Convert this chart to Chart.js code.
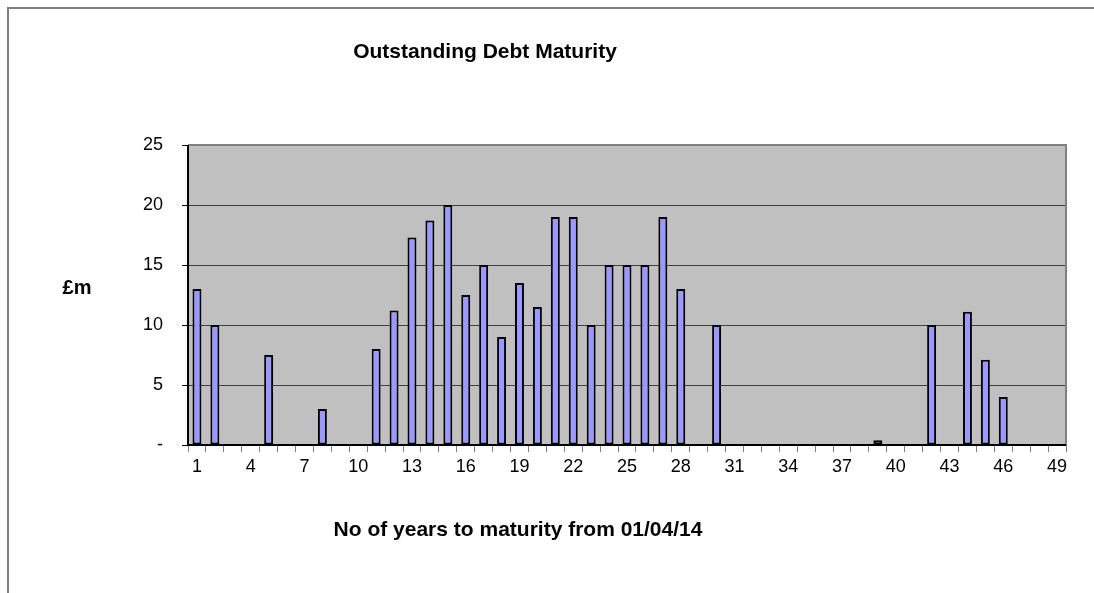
<!DOCTYPE html>
<html>
<head>
<meta charset="utf-8">
<script src="https://cdn.jsdelivr.net/npm/chart.js@4.4.1/dist/chart.umd.min.js"></script>
<style>
  html, body { margin: 0; padding: 0; background: #fff; }
  canvas { display: block; }
</style>
</head>
<body>
<canvas id="debtChart" width="1094" height="593"></canvas>
<script>
// years to maturity (1..49)
const years = [];
for (let y = 1; y <= 49; y++) years.push(String(y));

// £m maturing in each year (null = nothing)
const maturing = [
    13, 10, null, null, 7.5, null, null, 3, null, null,
    8, 11.2, 17.3, 18.7, 20, 12.5, 15, 9, 13.5, 11.5,
    19, 19, 10, 15, 15, 15, 19, 13, null, 10,
    null, null, null, null, null, null, null, null, 0.4, null,
    null, 10, null, 11.1, 7.1, 4, null, null, null
];

const yTicks = [0, 5, 10, 15, 20, 25];

const chartTitle = 'Outstanding Debt Maturity';
const yTitle = '£m';
const xTitle = 'No of years to maturity from 01/04/14';

const FONT = '"Liberation Sans", Arial, sans-serif';

// gray plot background, frame and text labels
const decorations = {
    id: 'decorations',
    beforeDraw(chart) {
        const { ctx, chartArea: a } = chart;
        ctx.save();
        ctx.fillStyle = '#fff';
        ctx.fillRect(0, 0, chart.width, chart.height);
        // outer frame (top + left only visible)
        ctx.strokeStyle = '#808080';
        ctx.lineWidth = 2;
        ctx.beginPath();
        ctx.moveTo(8, chart.height);
        ctx.lineTo(8, 8);
        ctx.lineTo(chart.width, 8);
        ctx.stroke();
        // plot area
        ctx.fillStyle = '#C0C0C0';
        ctx.fillRect(a.left, a.top, a.right - a.left, a.bottom - a.top);
        ctx.restore();
    },
    afterDraw(chart) {
        const { ctx, chartArea: a } = chart;
        ctx.save();
        ctx.strokeStyle = '#808080';
        ctx.lineWidth = 2;
        ctx.beginPath();
        ctx.moveTo(a.left, a.top);
        ctx.lineTo(a.right, a.top);
        ctx.lineTo(a.right, a.bottom);
        ctx.stroke();
        // axis lines
        ctx.strokeStyle = '#000';
        ctx.beginPath();
        ctx.moveTo(a.left, a.top);
        ctx.lineTo(a.left, a.bottom);
        ctx.lineTo(a.right, a.bottom);
        ctx.stroke();

        ctx.fillStyle = '#000';
        ctx.textAlign = 'center';
        ctx.textBaseline = 'middle';
        ctx.font = 'bold 21px ' + FONT;
        ctx.fillText(chartTitle, 485, 52);
        ctx.fillText(xTitle, 518, 530);
        ctx.font = 'bold 20px ' + FONT;
        ctx.fillText(yTitle, 77, 288);
        ctx.restore();
    }
};

new Chart(document.getElementById('debtChart'), {
    type: 'bar',
    data: {
        labels: years,
        datasets: [{
            data: maturing,
            backgroundColor: '#9999FF',
            borderColor: '#000',
            borderWidth: 2,
            borderSkipped: false,
            barPercentage: 0.5,
            categoryPercentage: 1
        }]
    },
    options: {
        responsive: false,
        animation: false,
        devicePixelRatio: 1,
        layout: { padding: { top: 145, right: 28, left: 0, bottom: 0 } },
        plugins: {
            legend: { display: false },
            tooltip: { enabled: false }
        },
        scales: {
            x: {
                offset: true,
                grid: {
                    offset: true,
                    drawOnChartArea: false,
                    drawTicks: true,
                    tickLength: 7,
                    tickColor: '#808080'
                },
                border: { display: false },
                ticks: {
                    autoSkip: false,
                    maxRotation: 0,
                    padding: 4,
                    color: '#000',
                    font: { family: FONT, size: 18 },
                    callback: (v, i) => (i % 3 === 0 ? years[i] : '')
                },
                afterFit(scale) { scale.height = 148; }
            },
            y: {
                min: 0,
                max: 25,
                afterBuildTicks(scale) { scale.ticks = yTicks.map(v => ({ value: v })); },
                grid: {
                    color: ctx => (ctx.tick && ctx.tick.value === 25 ? 'rgba(0,0,0,0)' : '#404040'),
                    lineWidth: 1,
                    drawTicks: true,
                    tickLength: 6,
                    tickColor: '#000'
                },
                border: { display: false },
                ticks: {
                    padding: 19,
                    color: '#000',
                    font: { family: FONT, size: 18 },
                    callback: v => (v === 0 ? '-' : v)
                },
                afterFit(scale) { scale.width = 188; }
            }
        }
    },
    plugins: [decorations]
});
</script>
</body>
</html>
